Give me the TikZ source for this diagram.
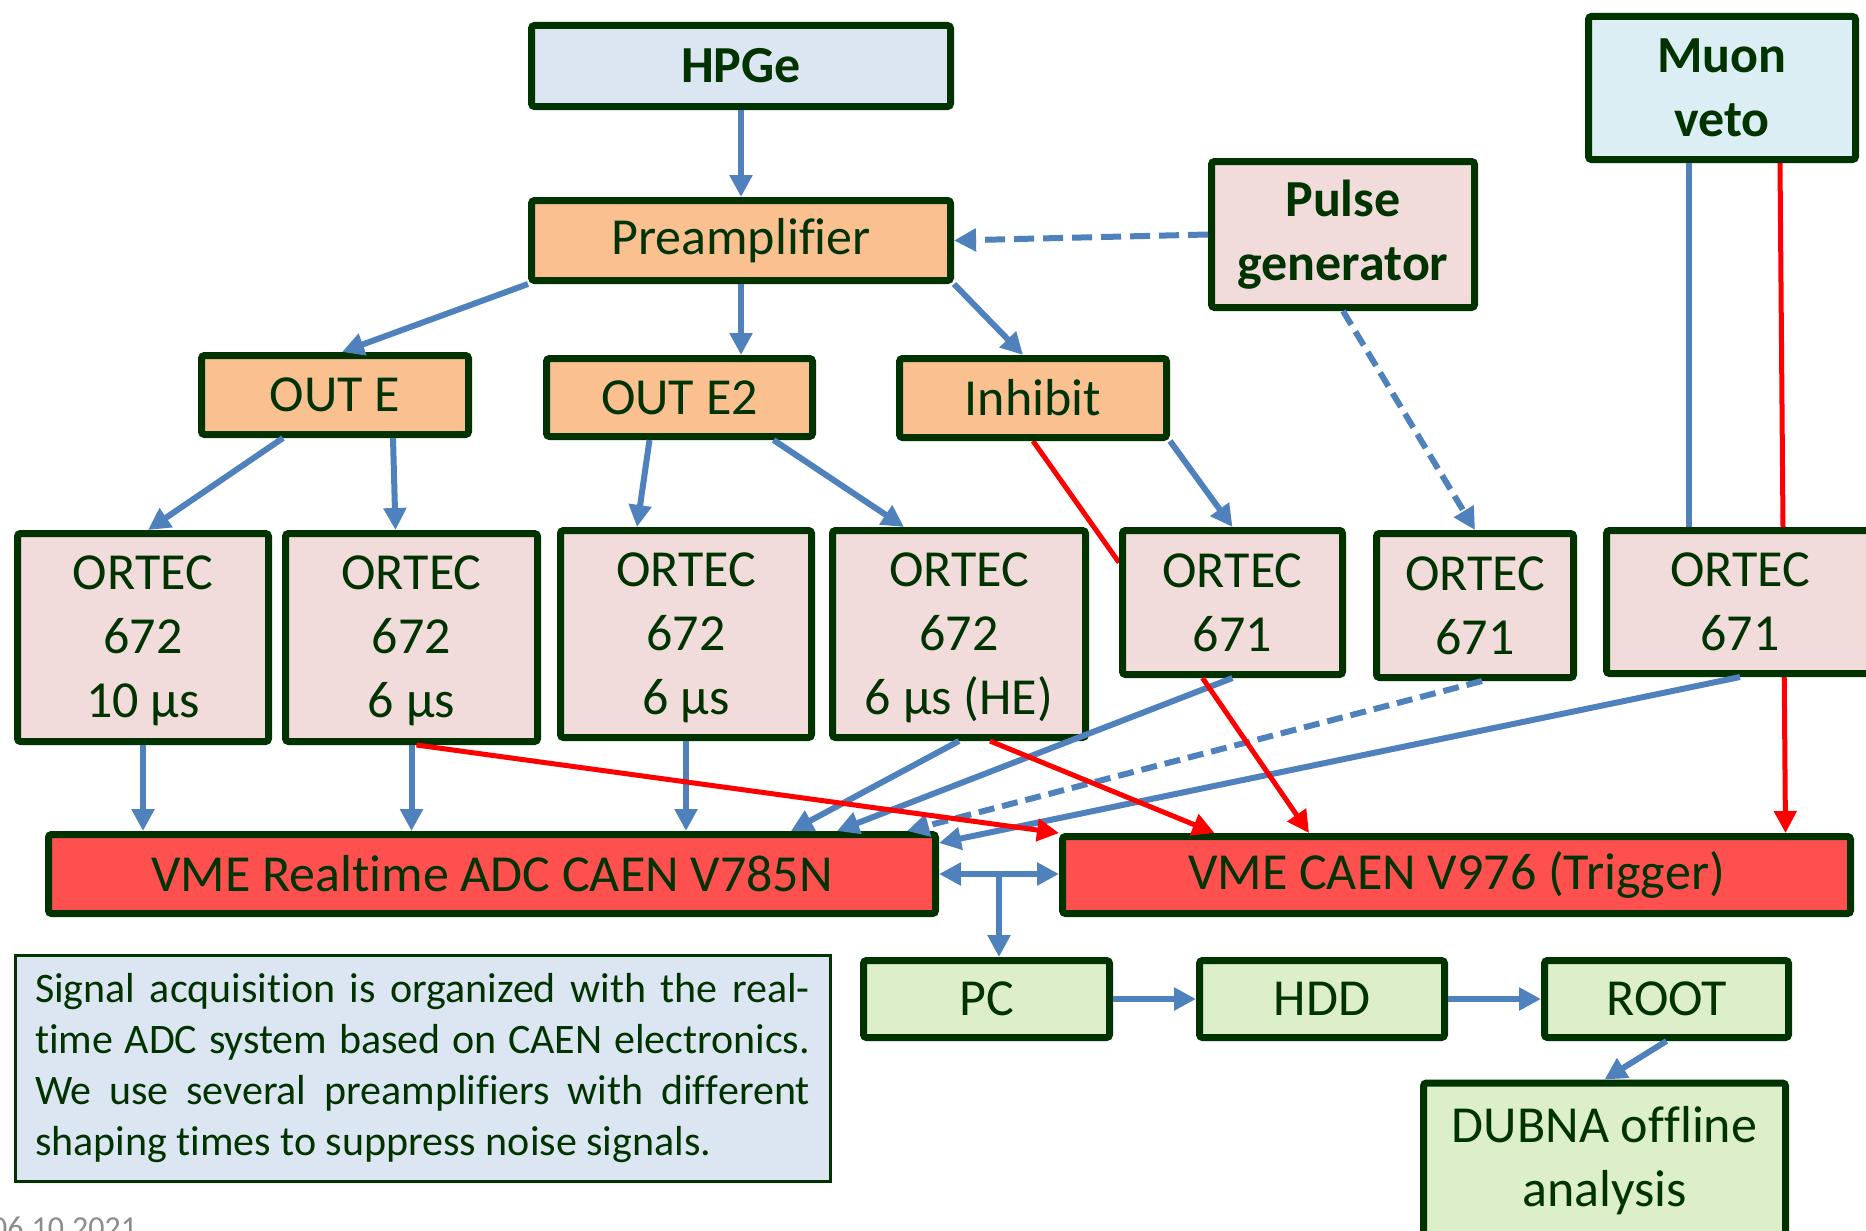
\documentclass[tikz,border=0pt]{standalone}
\usepackage{fontspec}
\setmainfont{Carlito}[Ligatures={NoCommon,NoContextual}]
\usetikzlibrary{arrows.meta,calc,backgrounds}
\definecolor{dkg}{RGB}{0,51,0}
\definecolor{lblue}{HTML}{4F81BD}
\definecolor{hpfill}{HTML}{DCE6F2}
\definecolor{orfill}{HTML}{FAC090}
\definecolor{pkfill}{HTML}{F2DCDB}
\definecolor{mufill}{HTML}{DBEEF4}
\definecolor{rdfill}{HTML}{FF5050}
\definecolor{grfill}{HTML}{DDEECB}
\definecolor{infofill}{HTML}{DCE6F2}
\newcommand{\nlg}{\kern0pt }
\begin{document}
\begin{tikzpicture}[x=1pt,y=-1pt,
  box/.style={draw=dkg, line width=7pt, rounded corners=3pt, text=dkg, align=center, inner sep=0pt,
    font=\fontsize{52}{64}\selectfont},
  infobox/.style={draw=dkg, line width=3pt, fill=infofill, text=dkg, inner sep=0pt},
  bl/.style={draw=lblue, line width=6pt},
  rd/.style={draw=red, line width=5pt},
  arr/.style={-{Triangle[length=22pt,width=22pt]}},
  darr/.style={{Triangle[length=22pt,width=22pt]}-{Triangle[length=22pt,width=22pt]}},
  dsh/.style={dash pattern=on 16pt off 8pt},
  dshb/.style={dash pattern=on 20pt off 9pt}
]
\useasboundingbox (0,0) rectangle (1866,1231);

% top row
\node[box, fill=hpfill, minimum width=419pt, minimum height=81pt] (hpge) at (741,66) {\textbf{HPGe}};
\node[box, fill=orfill, minimum width=419pt, minimum height=80pt] (pre) at (741,240.5) {Preamplif\nlg ier};
\node[box, fill=pkfill, minimum width=263pt, minimum height=146pt] (pulse) at (1343,234.5) {\textbf{Pulse}\\\textbf{generator}};
\node[box, fill=mufill, minimum width=267pt, minimum height=143pt] (muon) at (1722,88) {\textbf{Muon}\\\textbf{veto}};

% outputs
\node[box, fill=orfill, minimum width=267pt, minimum height=79pt] (oute) at (335,395) {OUT E};
\node[box, fill=orfill, minimum width=266pt, minimum height=78pt] (oute2) at (679.5,397.5) {OUT E2};
\node[box, fill=orfill, minimum width=267pt, minimum height=79pt] (inh) at (1033,398) {Inhibit};

% ORTEC row
\node[box, fill=pkfill, minimum width=251pt, minimum height=208pt] (o1) at (143,637.5) {\rule{0pt}{41pt}ORTEC\\672\\10 µs};
\node[box, fill=pkfill, minimum width=252pt, minimum height=208pt] (o2) at (411.5,637.5) {\rule{0pt}{41pt}ORTEC\\672\\6 µs};
\node[box, fill=pkfill, minimum width=251pt, minimum height=207pt] (o3) at (686,634) {\rule{0pt}{41pt}ORTEC\\672\\6 µs};
\node[box, fill=pkfill, minimum width=253pt, minimum height=207pt] (o4) at (959,634) {\rule{0pt}{41pt}ORTEC\\672\\6 µs (HE)};
\node[box, fill=pkfill, minimum width=220pt, minimum height=144pt] (o5) at (1232.5,602.5) {ORTEC\\671};
\node[box, fill=pkfill, minimum width=197pt, minimum height=144pt] (o6) at (1475,605.5) {ORTEC\\671};
\node[box, fill=pkfill, minimum width=267pt, minimum height=143pt] (o7) at (1740,602) {ORTEC\\671};

% VME row
\node[box, fill=rdfill, minimum width=887pt, minimum height=79pt] (adc) at (492,874) {VME Realt\nlg ime ADC CAEN V785N};
\node[box, fill=rdfill, minimum width=788pt, minimum height=77pt] (v976) at (1456.5,875) {VME CAEN V976 (Trigger)};

% bottom row
\node[infobox, minimum width=815pt, minimum height=226pt] (info) at (422.5,1068) {%
  \begin{minipage}{775pt}\fontsize{42}{51}\selectfont\setlength{\parindent}{0pt}%
  \makebox[\linewidth][s]{Signal acquisit\nlg ion is organized with the real-}\par
  \makebox[\linewidth][s]{t\nlg ime ADC system based on CAEN electronics.}\par
  \makebox[\linewidth][s]{We use several preamplif\nlg iers with dif\nlg f\nlg erent}\par
  shaping t\nlg imes to suppress noise signals.%
  \end{minipage}};
\node[box, fill=grfill, minimum width=246pt, minimum height=77pt] (pc) at (986.5,999) {PC};
\node[box, fill=grfill, minimum width=245pt, minimum height=77pt] (hdd) at (1322,999) {HDD};
\node[box, fill=grfill, minimum width=244pt, minimum height=77pt] (root) at (1666.5,999) {ROOT};
\node[box, fill=grfill, minimum width=362pt, minimum height=155pt] (dubna) at (1604.5,1160.5) {DUBNA of\nlg f\nlg l\nlg ine\\analysis};

\node[anchor=base west, inner sep=0pt, text=black!45, font=\fontsize{32}{38}\selectfont] (date) at (-9,1238) {06.10.2021};

% connectors behind boxes
\begin{pgfonlayer}{background}
\draw[rd, arr] ([xshift=58pt]muon.south) -- ([xshift=329pt]v976.north);
\draw[rd] (inh.south) -- ([yshift=40pt]o5.west);
\end{pgfonlayer}

\draw[bl, arr] (hpge.south) -- (pre.north);
\draw[bl, arr] (pre.south west) -- ([xshift=7pt]oute.north);
\draw[bl, arr] (pre.south) -- (pre.south |- oute2.north);
\draw[bl, arr] (pre.south east) -- ([xshift=-10pt]inh.north);
\draw[bl, arr, dshb] (pulse.west) -- (pre.east);

\draw[bl, arr] ([xshift=-52pt]oute.south) -- ([xshift=5pt]o1.north);
\draw[bl, arr] ([xshift=58pt]oute.south) -- ([xshift=-16pt]o2.north);
\draw[bl, arr] ([xshift=-30pt]oute2.south) -- ([xshift=-49pt]o3.north);
\draw[bl, arr] ([xshift=94pt]oute2.south) -- ([xshift=-55pt]o4.north);
\draw[bl, arr] (inh.south east) -- (o5.north);
\draw[bl, arr, dsh] (pulse.south) -- (o6.north);
\draw[bl] ([xshift=-33pt]muon.south) -- ([xshift=-51pt]o7.north);

\draw[bl, arr] (o1.south) -- (o1.south |- adc.north);
\draw[bl, arr] (o2.south) -- (o2.south |- adc.north);
\draw[bl, arr] (o3.south) -- (o3.south |- adc.north);
\draw[bl, arr] (o4.south) -- ([xshift=299pt]adc.north);
\draw[bl, arr] (o5.south) -- ([xshift=345pt]adc.north);
\draw[bl, arr, dsh] ([xshift=7pt]o6.south) -- ([xshift=415pt]adc.north);
\draw[bl, arr] (o7.south) -- ([yshift=31pt]adc.east);

\draw[rd, arr] ([xshift=5pt]o2.south) -- (v976.north west);
\draw[rd, arr] ([xshift=31pt]o4.south) -- ([xshift=-242pt]v976.north);
\draw[rd, arr] ([xshift=-30pt]o5.south) -- ([xshift=-147.5pt]v976.north);

\draw[bl, darr] (adc.east) -- (adc.east -| v976.west);
\coordinate (mid) at ($(adc.east)!0.5!(adc.east -| v976.west)$);
\draw[bl, arr] (mid) -- (mid |- pc.north);
\draw[bl, arr] (pc.east) -- (hdd.west);
\draw[bl, arr] (hdd.east) -- (root.west);
\draw[bl, arr] (root.south) -- (dubna.north);
\end{tikzpicture}
\end{document}
